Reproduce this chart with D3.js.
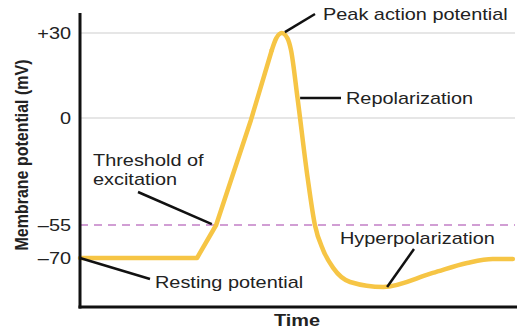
<!DOCTYPE html>
<html><head><meta charset="utf-8">
<script src="https://cdn.jsdelivr.net/npm/d3@7"></script>
<style>html,body{margin:0;padding:0;background:#fff}</style>
</head><body><svg id="c" width="528" height="333"></svg>
<script>
// ---- data ----
const times      = [0, 26.9, 31.3, 39.3, 44.1, 45.1, 46.4, 47.7, 48.5, 50.0, 52.3, 54.0, 55.9, 58.2, 62.1, 69.7, 81.1, 89.0, 94.9, 99.5];
const potentials = [-70, -70, -55, -1, 24, 28.1, 30, 28.1, 24, 7.1, -30.3, -55, -66.4, -74.5, -80.9, -83.2, -76.8, -72.3, -70.5, -70.5];
const linearUntil = 4; // rising phase drawn with straight segments
const tickValues = [30, 0, -55, -70];
const tickLabels = ["+30", "0", "\u201355", "\u201370"];
const gridValues = [30, 0];
const thresholdValue = -55;
const annotations = [
  {lines: ["Peak action potential"], t: 47.1, v: 30.3},
  {lines: ["Repolarization"], t: 50.6, v: 7.1},
  {lines: ["Threshold of", "excitation"], t: 30.3, v: -54.5},
  {lines: ["Resting potential"], t: 0, v: -70},
  {lines: ["Hyperpolarization"], t: 70.6, v: -83.2}
];
const yTitle = "Membrane potential (mV)";
const xTitle = "Time";

// ---- layout ----
const W = 528, H = 333;
const SX = 1.17; // horizontal stretch of the original artwork
const leaderEnds = [[315, 14], [341, 98], [138, 192], [150, 279], [414, 249]];
const labelPos   = [[323, 14], [346, 98], [93, 160], [155, 282], [340, 238]];
const font = "'Liberation Sans', Arial, sans-serif";
const ink = "#222";

const svg = d3.select("#c");
const x = d3.scaleLinear().domain([0, 100]).range([80, 515]);
const y = d3.scaleLinear().domain([-70, -55, 0, 30]).range([258, 225, 118, 33]);

// gridlines
svg.selectAll("line.grid").data(gridValues).join("line")
  .attr("x1", 80).attr("x2", 515)
  .attr("y1", d => y(d)).attr("y2", d => y(d))
  .attr("stroke", "#dedede").attr("stroke-width", 1.5);

svg.append("line")
  .attr("x1", 80).attr("x2", 515)
  .attr("y1", y(thresholdValue)).attr("y2", y(thresholdValue))
  .attr("stroke", "#c27fc6").attr("stroke-width", 1.5)
  .attr("stroke-dasharray", "8,6");

// curve
const pts = times.map((t, i) => [t, potentials[i]]);
const lineLin = d3.line().x(d => x(d[0])).y(d => y(d[1]));
const lineSmooth = d3.line().x(d => x(d[0])).y(d => y(d[1])).curve(d3.curveMonotoneX);
const curveStyle = sel => sel.attr("fill", "none").attr("stroke", "#f6c545")
  .attr("stroke-width", 4.5).attr("stroke-linejoin", "round").attr("stroke-linecap", "round");
svg.append("path").attr("d", lineLin(pts.slice(0, linearUntil + 1))).call(curveStyle);
svg.append("path").attr("d", lineSmooth(pts.slice(linearUntil))).call(curveStyle);

// y axis ticks
const yAxis = d3.axisLeft(y).tickValues(tickValues).tickSize(0).tickSizeOuter(0)
  .tickFormat((d, i) => tickLabels[i]);
const ga = svg.append("g").attr("transform", "translate(80,0)").call(yAxis);
ga.select(".domain").remove();
ga.selectAll("text")
  .attr("x", -9 / SX).attr("dy", "0.35em")
  .attr("transform", `scale(${SX},1)`)
  .attr("font-family", font).attr("font-size", 17).attr("fill", ink);

// axes lines
svg.append("line").attr("x1", 80).attr("x2", 80).attr("y1", 13).attr("y2", 308.5)
  .attr("stroke", "#111").attr("stroke-width", 3);
svg.append("line").attr("x1", 78.5).attr("x2", 517).attr("y1", 307).attr("y2", 307)
  .attr("stroke", "#111").attr("stroke-width", 3);

// titles
svg.append("text")
  .attr("transform", `translate(21,155) scale(${SX},1) rotate(-90)`)
  .attr("text-anchor", "middle").attr("dy", "0.35em")
  .attr("font-family", font).attr("font-weight", "bold").attr("font-size", 16)
  .attr("fill", ink).text(yTitle);
svg.append("text")
  .attr("transform", `translate(297,320) scale(${SX},1)`)
  .attr("text-anchor", "middle").attr("dy", "0.35em")
  .attr("font-family", font).attr("font-weight", "bold").attr("font-size", 17)
  .attr("fill", ink).text(xTitle);

// annotations
annotations.forEach((a, i) => {
  svg.append("line")
    .attr("x1", x(a.t)).attr("y1", y(a.v))
    .attr("x2", leaderEnds[i][0]).attr("y2", leaderEnds[i][1])
    .attr("stroke", "#111").attr("stroke-width", 2.5);
  const g = svg.append("g")
    .attr("transform", `translate(${labelPos[i][0]},${labelPos[i][1]}) scale(${SX},1)`);
  a.lines.forEach((ln, j) => {
    g.append("text").attr("x", 0).attr("y", j * 19).attr("dy", "0.35em")
      .attr("font-family", font).attr("font-size", 17).attr("fill", ink).text(ln);
  });
});
</script></body></html>
